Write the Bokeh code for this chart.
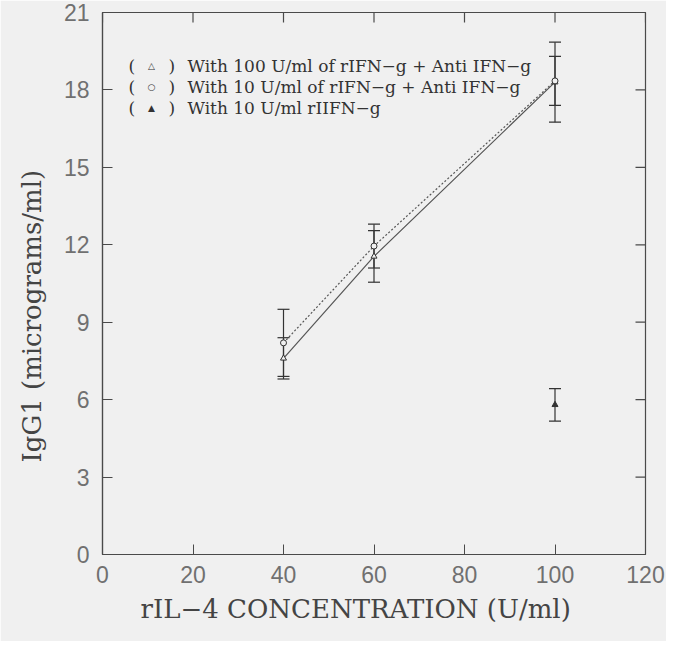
import math
from bokeh.plotting import figure
from bokeh.models import ColumnDataSource, Whisker, Range1d, FixedTicker, Label, TeeHead, Title
from bokeh.embed import file_html
from bokeh.resources import INLINE

# ---- data ----
conc = [40, 60, 100]
tri_open = [7.6, 11.55, 18.3]
tri_open_err = [0.8, 1.0, 1.55]
circ = [8.2, 11.95, 18.35]
circ_err = [1.3, 0.85, 0.95]
tri_fill_x = [100]
tri_fill = [5.8]
tri_fill_err = [0.63]

x_ticks = [0, 20, 40, 60, 80, 100, 120]
y_ticks = [0, 3, 6, 9, 12, 15, 18, 21]
x_title = "rIL\u22124 CONCENTRATION (U/ml)"
y_title = "IgG1 (micrograms/ml)"

legend_rows = [
    ("\u25b3", "With 100 U/ml of rIFN\u2212g + Anti IFN\u2212g"),
    ("\u25cb", "With 10 U/ml of rIFN\u2212g + Anti IFN\u2212g"),
    ("\u25b2", "With 10 U/ml rIIFN\u2212g"),
]

BG = "#f0f0f0"
INK = "#4a4a4a"
SERIF = "DejaVu Serif"
SANS = "Liberation Sans"

W, H = 666, 641
BL, BR, BT, BB = 102, 21, 12, 87
frame_h = H - BT - BB

p = figure(width=W, height=H, x_range=Range1d(0, 120), y_range=Range1d(0, 21),
           output_backend="svg", toolbar_location=None,
           min_border_left=BL, min_border_right=BR, min_border_top=BT, min_border_bottom=BB)
p.background_fill_color = BG
p.border_fill_color = BG
p.outline_line_color = INK
p.outline_line_width = 1.2
p.grid.visible = False

xa = p.xaxis[0]
ya = p.yaxis[0]
xa.ticker = FixedTicker(ticks=x_ticks)
ya.ticker = FixedTicker(ticks=y_ticks)
for ax in (xa, ya):
    ax.major_tick_in = 10
    ax.major_tick_out = 0
    ax.minor_tick_line_color = None
    ax.axis_line_color = INK
    ax.axis_line_width = 1.2
    ax.major_tick_line_color = INK
    ax.major_label_text_font = SANS
    ax.major_label_text_color = "#707070"
    ax.major_label_text_font_size = "23px"
xa.major_label_standoff = 11
ya.major_label_standoff = 13

# inner tick marks on the top and right edges (half of each dash is clipped by the frame)
p.scatter(x_ticks, [p.y_range.end] * len(x_ticks), marker="dash", angle=math.pi / 2,
          size=20, line_color=INK, line_width=1.2)
p.scatter([p.x_range.end] * len(y_ticks), y_ticks, marker="dash",
          size=20, line_color=INK, line_width=1.2)

# axis titles as side titles (allow the small off-centre shift seen in the reference)
p.add_layout(Title(text=x_title, align="left", offset=38, standoff=13,
                   text_font=SERIF, text_font_size="26px", text_font_style="normal",
                   text_color="#444444"), "below")
p.add_layout(Title(text=y_title, align="left", offset=92, standoff=28,
                   text_font=SERIF, text_font_size="26px", text_font_style="normal",
                   text_color="#444444"), "left")

# lines
p.line(conc, tri_open, line_color="#555555", line_width=1.2)
p.line(conc, circ, line_color="#555555", line_width=1.2, line_dash="2 2")

# error bars
def bars(xs, ys, errs):
    src = ColumnDataSource(dict(x=xs, lo=[y - e for y, e in zip(ys, errs)],
                                hi=[y + e for y, e in zip(ys, errs)]))
    w = Whisker(source=src, base="x", lower="lo", upper="hi", line_color="#333333", line_width=1.2,
                upper_head=TeeHead(size=12, line_color="#333333", line_width=1.2),
                lower_head=TeeHead(size=12, line_color="#333333", line_width=1.2))
    p.add_layout(w)

bars(conc, tri_open, tri_open_err)
bars(conc, circ, circ_err)
bars(tri_fill_x, tri_fill, tri_fill_err)

# markers
p.scatter(conc, tri_open, marker="triangle", size=6, fill_color=BG, line_color="#333333")
p.scatter(conc, circ, marker="circle", size=6, fill_color=BG, line_color="#333333")
p.scatter(tri_fill_x, tri_fill, marker="triangle", size=6, fill_color="#333333", line_color="#333333")

# legend block
for i, (sym, txt) in enumerate(legend_rows):
    ys = frame_h - 53 - i * 21
    p.add_layout(Label(x=26, y=ys, x_units="screen", y_units="screen", text="(",
                       text_font=SERIF, text_font_size="17px", text_color="#333333",
                       text_baseline="middle"))
    p.add_layout(Label(x=49, y=ys, x_units="screen", y_units="screen", text=sym,
                       text_font=SERIF, text_font_size="9px", text_color="#333333",
                       text_baseline="middle", text_align="center"))
    p.add_layout(Label(x=66, y=ys, x_units="screen", y_units="screen", text=")",
                       text_font=SERIF, text_font_size="17px", text_color="#333333",
                       text_baseline="middle"))
    p.add_layout(Label(x=85, y=ys, x_units="screen", y_units="screen", text=txt,
                       text_font=SERIF, text_font_size="17px", text_color="#333333",
                       text_baseline="middle"))

open("out.html", "w").write(file_html(p, INLINE))
